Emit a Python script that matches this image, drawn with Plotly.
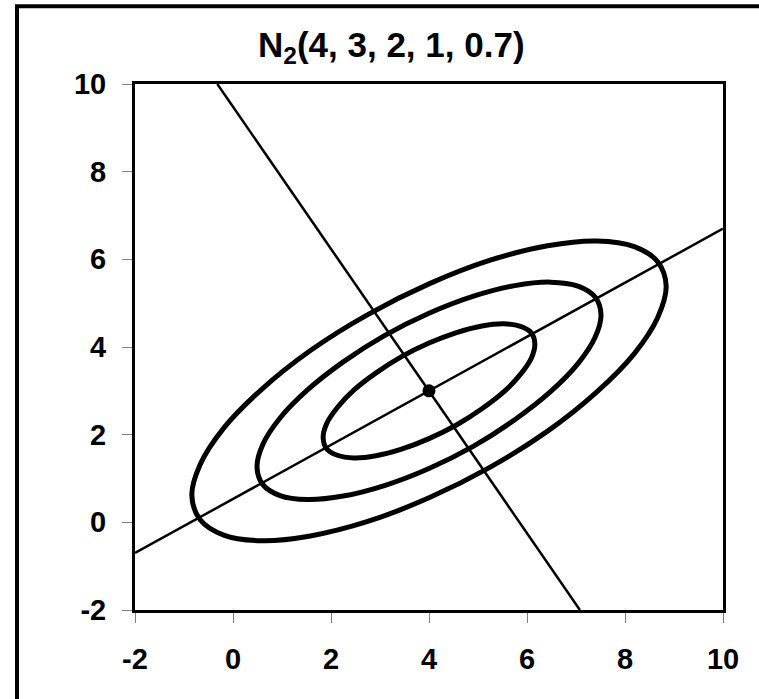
import plotly.graph_objects as go

# Contours of N2(4, 3, 2, 1, 0.7)
inner_x = [6.16, 6.09, 5.87, 5.53, 5.08, 4.56, 4.00, 3.44, 2.92, 2.47, 2.13, 1.91,
           1.84, 1.91, 2.13, 2.47, 2.92, 3.44, 4.00, 4.56, 5.08, 5.53, 5.87, 6.09, 6.16]
inner_y = [4.07, 4.32, 4.47, 4.53, 4.48, 4.33, 4.09, 3.78, 3.41, 3.02, 2.62, 2.25,
           1.93, 1.68, 1.53, 1.47, 1.52, 1.67, 1.91, 2.22, 2.59, 2.98, 3.38, 3.75, 4.07]

middle_x = [7.51, 7.39, 7.04, 6.48, 5.75, 4.91, 4.00, 3.09, 2.25, 1.52, 0.96, 0.61,
            0.49, 0.61, 0.96, 1.52, 2.25, 3.09, 4.00, 4.91, 5.75, 6.48, 7.04, 7.39, 7.51]
middle_y = [4.74, 5.14, 5.39, 5.48, 5.40, 5.16, 4.77, 4.26, 3.66, 3.02, 2.38, 1.78,
            1.26, 0.86, 0.61, 0.52, 0.60, 0.84, 1.23, 1.74, 2.34, 2.98, 3.62, 4.22, 4.74]

outer_x = [8.84, 8.67, 8.19, 7.42, 6.42, 5.25, 4.00, 2.75, 1.58, 0.58, -0.19, -0.67,
           -0.84, -0.67, -0.19, 0.58, 1.58, 2.75, 4.00, 5.25, 6.42, 7.42, 8.19, 8.67, 8.84]
outer_y = [5.39, 5.94, 6.29, 6.42, 6.31, 5.98, 5.44, 4.74, 3.92, 3.03, 2.15, 1.32,
           0.61, 0.06, -0.29, -0.42, -0.31, 0.02, 0.56, 1.26, 2.08, 2.97, 3.85, 4.68, 5.39]

# axis lines through the mean
major_x = [-2, 10]
major_y = [-0.7, 6.7]
minor_x = [-0.32, 7.08]
minor_y = [10, -2]

mean_x = [4]
mean_y = [3]

tick_vals = [-2, 0, 2, 4, 6, 8, 10]
title_text = "N<sub>2</sub>(4, 3, 2, 1, 0.7)"

FONT = "Arial, Liberation Sans, sans-serif"

fig = go.Figure()

for xs, ys in [(major_x, major_y), (minor_x, minor_y)]:
    fig.add_trace(go.Scatter(x=xs, y=ys, mode="lines",
                             line=dict(color="black", width=2.5), hoverinfo="skip"))

for xs, ys in [(outer_x, outer_y), (middle_x, middle_y), (inner_x, inner_y)]:
    fig.add_trace(go.Scatter(x=xs, y=ys, mode="lines",
                             line=dict(color="black", width=5, shape="spline", smoothing=1.0)))

fig.add_trace(go.Scatter(x=mean_x, y=mean_y, mode="markers",
                         marker=dict(color="black", size=13)))

axis_style = dict(
    tickvals=tick_vals,
    ticktext=[str(v) for v in tick_vals],
    ticks="outside",
    ticklen=10,
    tickwidth=1,
    tickcolor="#808080",
    showline=True,
    linecolor="black",
    linewidth=3,
    mirror=True,
    showgrid=False,
    zeroline=False,
    tickfont=dict(family=FONT, size=29, color="black", weight="bold"),
)

fig.update_layout(
    width=759,
    height=699,
    margin=dict(l=135, r=36, t=84, b=89),
    paper_bgcolor="white",
    plot_bgcolor="white",
    showlegend=False,
    xaxis=dict(range=[-2, 10], ticklabelstandoff=11, **axis_style),
    yaxis=dict(range=[-2, 10], ticklabelstandoff=10, **axis_style),
    annotations=[dict(
        text=title_text, xref="paper", yref="paper", x=0.436, y=1.07,
        xanchor="center", yanchor="middle", showarrow=False,
        font=dict(family=FONT, size=35, color="black", weight="bold"),
    )],
    shapes=[dict(
        type="rect", xref="paper", yref="paper",
        x0=-0.2007, x1=1.1, y0=-0.2, y1=1.148,
        line=dict(color="black", width=4), layer="below",
    )],
)

# drop the page's default body margin so the figure sits at (0, 0)
fig.write_html("out.html", config={"displayModeBar": False},
               post_script="document.body.style.margin='0';")
